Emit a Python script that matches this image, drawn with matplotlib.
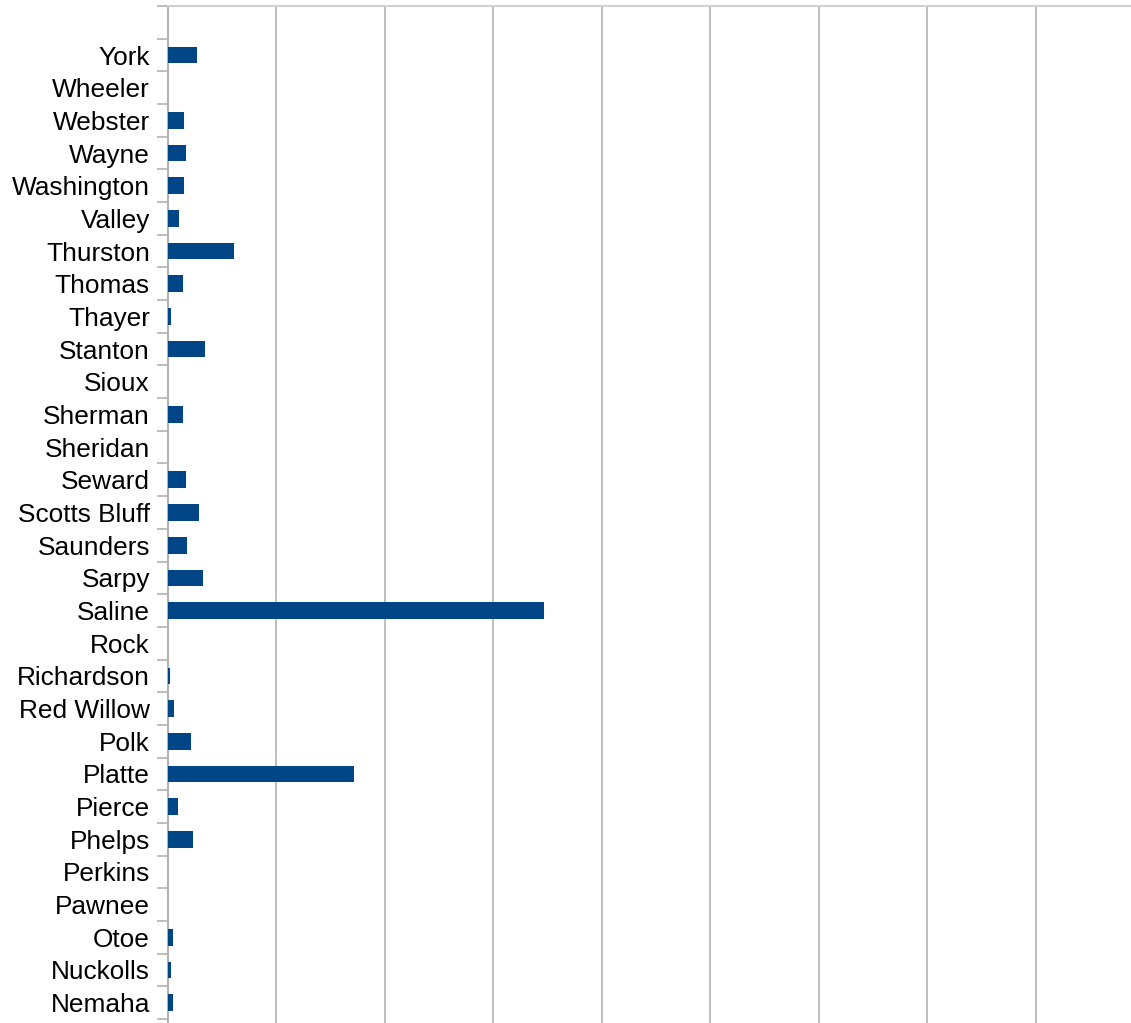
import matplotlib.pyplot as plt
import numpy as np

plt.rcParams["font.family"] = ["Liberation Sans", "DejaVu Sans"]

counties = ["Nemaha", "Nuckolls", "Otoe", "Pawnee", "Perkins", "Phelps", "Pierce",
            "Platte", "Polk", "Red Willow", "Richardson", "Rock", "Saline", "Sarpy",
            "Saunders", "Scotts Bluff", "Seward", "Sheridan", "Sherman", "Sioux",
            "Stanton", "Thayer", "Thomas", "Thurston", "Valley", "Washington",
            "Wayne", "Webster", "Wheeler", "York"]
values = [0.049, 0.03, 0.049, 0, 0, 0.233, 0.095,
          1.716, 0.215, 0.058, 0.021, 0, 3.465, 0.325,
          0.178, 0.288, 0.168, 0, 0.141, 0,
          0.343, 0.03, 0.141, 0.61, 0.104, 0.15,
          0.168, 0.15, 0, 0.267]

W, H = 1131, 1023
fig = plt.figure(figsize=(W / 100, H / 100), dpi=100)
ax = fig.add_axes([168 / W, 0, 1 - 168 / W, 1 - 6 / H])

y = np.arange(len(counties))
ax.barh(y, values, height=0.51, color="#004586", zorder=3)

ax.set_xlim(0, 8.88)
ax.set_ylim(-0.622, len(counties) + 0.5)

# vertical gridlines only, no value labels visible
ax.set_xticks(np.arange(0, 9))
ax.xaxis.grid(True, color="#b3b3b3", linewidth=1.2)
ax.tick_params(axis="x", length=0, labelbottom=False)

ax.set_yticks(y)
ax.set_yticklabels(counties, fontsize=18.9)
ax.set_yticks(np.arange(-0.5, len(counties) + 1, 1), minor=True)
ax.tick_params(axis="y", which="major", length=0, pad=13)
ax.tick_params(axis="y", which="minor", length=8, width=1.2, color="#b3b3b3")

for s in ["right", "bottom"]:
    ax.spines[s].set_visible(False)
ax.spines["left"].set_color("#b3b3b3")
ax.spines["left"].set_linewidth(1.5)
ax.spines["top"].set_color("#d0d0d0")
ax.spines["top"].set_linewidth(1.5)

fig.savefig("out.png", dpi=100)
